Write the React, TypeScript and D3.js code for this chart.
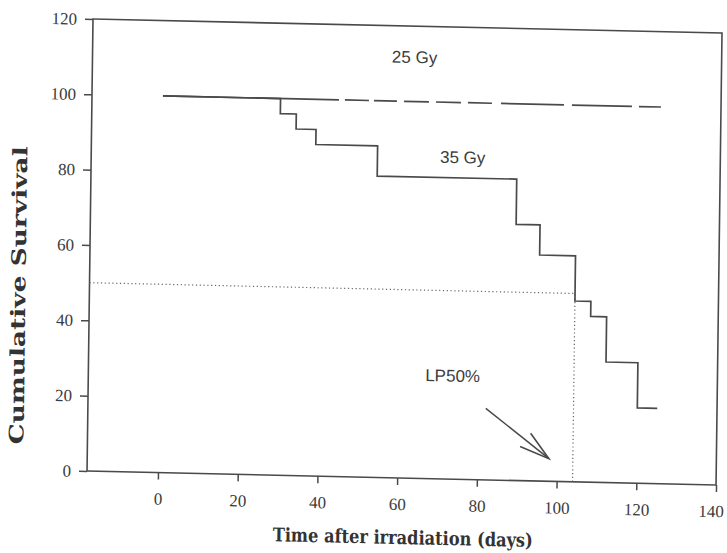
import React, { useEffect, useRef } from 'react';
import * as d3 from 'd3';

// Kaplan-Meier style survival data
const days35 = [0, 29.5, 33.5, 38.5, 54, 89, 95, 104, 108, 112, 120, 125];
const surv35 = [100, 96, 92, 88, 80, 68, 60, 48, 44, 32, 20, 20];
const days25 = [0, 125];
const surv25 = [100, 100];

const xTicks = [0, 20, 40, 60, 80, 100, 120, 140];
const yTicks = [0, 20, 40, 60, 80, 100, 120];

const lp50Day = 104;
const lp50Value = 50;
const arrowFrom = [82, 19];
const arrowTo = [98, 6];

const App = () => {
  const svgRef = useRef<SVGSVGElement>(null);

  useEffect(() => {
    const width = 629;
    const height = 452;
    const ink = '#4a4a4a';

    const svg = d3.select(svgRef.current);
    svg.selectAll('*').remove();

    // the scan is slightly tilted, so the whole plot gets a small affine skew
    const g = svg.append('g')
      .attr('transform', 'matrix(1,0.0223,-0.0132,1,93,19)');

    const x = d3.scaleLinear().domain([-17.8, 140]).range([0, width]);
    const y = d3.scaleLinear().domain([0, 120]).range([height, 0]);

    const defs = svg.append('defs');
    defs.append('marker')
      .attr('id', 'openArrow')
      .attr('markerUnits', 'userSpaceOnUse')
      .attr('markerWidth', 40)
      .attr('markerHeight', 24)
      .attr('refX', 32)
      .attr('refY', 12)
      .attr('orient', 'auto')
      .attr('overflow', 'visible')
      .append('path')
      .attr('d', 'M2,3.5 L32,12 L2,20.5')
      .attr('fill', 'none')
      .attr('stroke', ink)
      .attr('stroke-width', 1.6);

    // frame
    g.append('rect')
      .attr('x', 0).attr('y', 0)
      .attr('width', width).attr('height', height)
      .attr('fill', 'none')
      .attr('stroke', ink)
      .attr('stroke-width', 1.6);

    const xAxis = g.append('g')
      .attr('transform', `translate(0,${height})`)
      .call(d3.axisBottom(x).tickValues(xTicks).tickSize(7).tickPadding(13).tickSizeOuter(0));
    const yAxis = g.append('g')
      .call(d3.axisLeft(y).tickValues(yTicks).tickSize(8).tickPadding(8).tickSizeOuter(0));

    [xAxis, yAxis].forEach(ax => {
      ax.select('.domain').remove();
      ax.selectAll('line').attr('stroke', ink).attr('stroke-width', 1.5);
      ax.selectAll('text')
        .attr('fill', '#3c3c3c')
        .style('font-family', '"Liberation Serif", "Times New Roman", serif')
        .style('font-size', '17px');
    });
    // last x label sits right at the page edge in the scan
    xAxis.selectAll('text').filter(d => d === 140).attr('dx', -5);

    // LP50 dotted guides
    g.append('path')
      .attr('d', d3.line()([
        [x(-17.8), y(lp50Value)],
        [x(lp50Day), y(lp50Value)],
        [x(lp50Day), y(0)],
      ]))
      .attr('fill', 'none')
      .attr('stroke', '#666')
      .attr('stroke-width', 1.2)
      .attr('stroke-dasharray', '1.2,2.6');

    const line = d3.line<number>()
      .x((d, i) => x(d))
      .curve(d3.curveStepAfter);

    // 25 Gy: long solid start then dashes as in the scan
    g.append('path')
      .attr('d', line.y((d, i) => y(surv25[i]))(days25))
      .attr('fill', 'none')
      .attr('stroke', ink)
      .attr('stroke-width', 1.7)
      .attr('stroke-dasharray', '176,6,24,5,23,7,25,7,25,7,24,9,63,8,60,7,22,40');

    // 35 Gy step curve
    g.append('path')
      .attr('d', line.y((d, i) => y(surv35[i]))(days35))
      .attr('fill', 'none')
      .attr('stroke', ink)
      .attr('stroke-width', 1.7);

    // arrow to LP50
    g.append('line')
      .attr('x1', x(arrowFrom[0])).attr('y1', y(arrowFrom[1]))
      .attr('x2', x(arrowTo[0])).attr('y2', y(arrowTo[1]))
      .attr('stroke', ink)
      .attr('stroke-width', 1.5)
      .attr('marker-end', 'url(#openArrow)');

    const sans = '"Liberation Sans", Arial, sans-serif';
    const labels = [
      { text: '25 Gy', day: 57.3, val: 110.2 },
      { text: '35 Gy', day: 69.7, val: 83.9 },
      { text: 'LP50%', day: 66.7, val: 25.9 },
    ];
    g.selectAll('.lbl')
      .data(labels)
      .enter()
      .append('text')
      .attr('class', 'lbl')
      .attr('x', d => x(d.day))
      .attr('y', d => y(d.val))
      .attr('fill', '#3c3c3c')
      .style('font-family', sans)
      .style('font-size', '17px')
      .text(d => d.text);

    const serif = '"DejaVu Serif", "Liberation Serif", serif';
    g.append('text')
      .attr('x', width / 2 + 2)
      .attr('y', 518)
      .attr('text-anchor', 'middle')
      .attr('fill', '#333')
      .attr('textLength', 260)
      .attr('lengthAdjust', 'spacingAndGlyphs')
      .style('font-family', serif)
      .style('font-weight', 'bold')
      .style('font-size', '19px')
      .text('Time after irradiation (days)');

    g.append('text')
      .attr('transform', `translate(-64,278) rotate(-90)`)
      .attr('text-anchor', 'middle')
      .attr('fill', '#333')
      .attr('textLength', 298)
      .attr('lengthAdjust', 'spacingAndGlyphs')
      .style('font-family', serif)
      .style('font-weight', 'bold')
      .style('font-size', '20px')
      .text('Cumulative Survival');
  }, []);

  return (
    <svg
      ref={svgRef}
      width={727}
      height={553}
      style={{ position: 'absolute', left: 0, top: 0, background: '#fff' }}
    ></svg>
  );
};

export default App;
